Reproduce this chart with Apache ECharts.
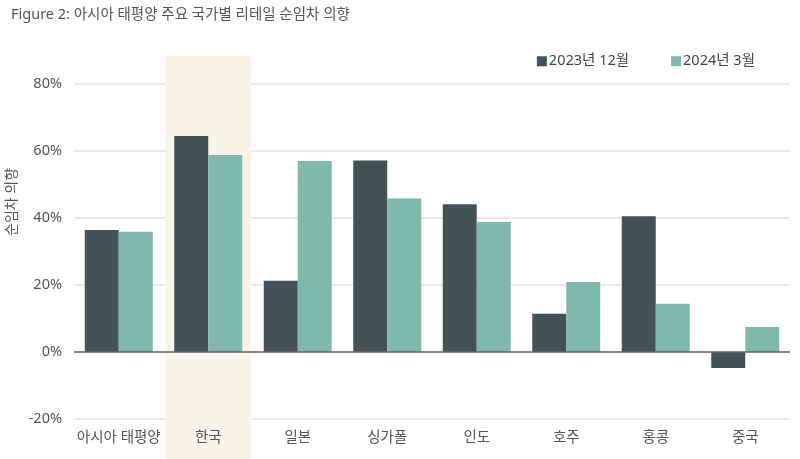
<!DOCTYPE html>
<html><head><meta charset="utf-8">
<script src="https://cdn.jsdelivr.net/npm/echarts@6/dist/echarts.min.js"></script>
<style>html,body{margin:0;padding:0;background:#fff}#c{width:800px;height:459px}</style>
</head><body><div id="c"></div>
<script>
const categories = ['아시아 태평양','한국','일본','싱가폴','인도','호주','홍콩','중국'];
const dec2023 = [36.4, 64.5, 21.3, 57.2, 44.1, 11.4, 40.5, -4.8];
const mar2024 = [35.9, 58.8, 57.0, 45.8, 38.8, 20.9, 14.4, 7.5];
const highlight = ['한국'];
const yTicks = [-20, 0, 20, 40, 60, 80];
const FONT = '"Noto Sans","Noto Sans CJK KR",sans-serif';

const chart = echarts.init(document.getElementById('c'));
chart.setOption({
  animation: false,
  textStyle: {fontFamily: FONT},
  title: {text: 'Figure 2: 아시아 태평양 주요 국가별 리테일 순임차 의향', left: 6, top: 3,
    textStyle: {fontSize: 14.5, fontWeight: 'normal', color: '#555', fontFamily: FONT}},
  legend: {top: 49, right: 40, itemWidth: 10, itemHeight: 10, itemGap: 42, icon: 'rect',
    textStyle: {fontSize: 14.5, color: '#444', fontFamily: FONT, padding: [0,0,0,-3]}},
  grid: {left: 74, right: 10, top: 84, bottom: 40},
  xAxis: {type: 'category', data: categories,
    axisLine: {show: false}, axisTick: {show: false},
    axisLabel: {fontSize: 14.5, color: '#555', margin: 12, interval: 0}},
  yAxis: {type: 'value', min: yTicks[0], max: yTicks[yTicks.length-1], interval: 20,
    axisLabel: {formatter: '{value}%', fontSize: 14.5, color: '#555', margin: 12},
    splitLine: {lineStyle: {color: '#e2e2e2', width: 1.5}},
    axisLine: {show: false}, axisTick: {show: false}},
  graphic: [{type: 'text', x: 5, y: 236, rotation: Math.PI/2,
    style: {text: '순임차 의향', fill: '#555', font: '14px ' + FONT}}],
  series: [
    {type: 'custom', silent: true, z: 0,
      data: highlight.map(c => [c]),
      renderItem: function(params, api) {
        const p = api.coord([api.value(0), 80]);
        const w = api.size([1, 0])[0] * 0.95;
        return {type: 'rect', shape: {x: p[0] - w/2, y: p[1] - 28, width: w, height: 459 - (p[1] - 28)},
          style: {fill: '#f7f4e7'}};
      }},
    {name: '2023년 12월', type: 'bar', data: dec2023, barWidth: 34, barGap: '0%', z: 2,
      itemStyle: {color: '#435255'},
      markLine: {silent: true, symbol: 'none', label: {show: false},
        lineStyle: {color: '#666', width: 1.5, type: 'solid'}, data: [{yAxis: 0}]}},
    {name: '2024년 3월', type: 'bar', data: mar2024, barWidth: 34, z: 2,
      itemStyle: {color: '#7fb9ab'}}
  ]
});
</script></body></html>
